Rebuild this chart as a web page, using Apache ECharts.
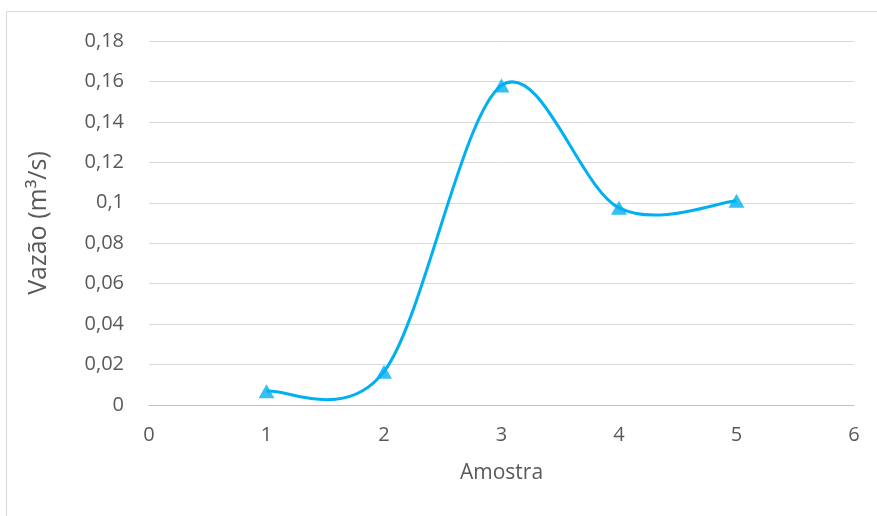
<!DOCTYPE html>
<html><head><meta charset="utf-8">
<script src="https://cdn.jsdelivr.net/npm/echarts@6/dist/echarts.min.js"></script>
<style>html,body{margin:0;padding:0;background:#fff}#c{width:877px;height:516px}</style>
</head><body><div id="c"></div>
<script>
const amostras = [1, 2, 3, 4, 5];
const vazao = [0.0068, 0.0165, 0.158, 0.0975, 0.101];
const xTicks = [0, 1, 2, 3, 4, 5, 6];
const yTickStep = 0.02;

const chart = echarts.init(document.getElementById('c'), null, {renderer: 'canvas'});
const font = '"Open Sans", "Liberation Sans", sans-serif';
const lineColor = '#00B0F0';

// Excel-style smoothed line: cubic Bezier (Catmull-Rom, factor 1/6) through the data, in pixel space via api.coord
function renderSmooth(params, api) {
  if (params.dataIndexInside !== 0) return null;
  const P = amostras.map((a, i) => api.coord([a, vazao[i]]));
  const n = P.length;
  const g = i => P[Math.max(0, Math.min(n - 1, i))];
  let d = 'M' + P[0][0] + ' ' + P[0][1];
  for (let i = 0; i < n - 1; i++) {
    const p0 = g(i - 1), p1 = g(i), p2 = g(i + 1), p3 = g(i + 2);
    const c1 = [p1[0] + (p2[0] - p0[0]) / 6, p1[1] + (p2[1] - p0[1]) / 6];
    const c2 = [p2[0] - (p3[0] - p1[0]) / 6, p2[1] - (p3[1] - p1[1]) / 6];
    d += ' C' + c1[0] + ' ' + c1[1] + ' ' + c2[0] + ' ' + c2[1] + ' ' + p2[0] + ' ' + p2[1];
  }
  return {type: 'path', shape: {pathData: d}, style: {fill: 'none', stroke: lineColor, lineWidth: 3}};
}

chart.setOption({
  animation: false,
  graphic: [{type: 'rect', shape: {x: 6.5, y: 11.5, width: 900, height: 600}, style: {fill: 'none', stroke: '#d9d9d9', lineWidth: 1}, silent: true}],
  grid: {left: 149, right: 23, top: 41, bottom: 111},
  xAxis: {
    type: 'value', min: xTicks[0], max: xTicks[xTicks.length - 1], interval: 1,
    name: 'Amostra', nameLocation: 'middle', nameGap: 58,
    nameTextStyle: {fontFamily: font, fontSize: 21, color: '#595959'},
    axisLine: {show: true, lineStyle: {color: '#bfbfbf', width: 1}},
    axisTick: {show: false},
    splitLine: {show: false},
    axisLabel: {fontFamily: font, fontSize: 20, color: '#595959', margin: 20}
  },
  yAxis: {
    type: 'value', min: 0, max: 0.18, interval: yTickStep,
    name: 'Vazão (m³/s)', nameLocation: 'middle', nameGap: 98, nameRotate: 90,
    nameTextStyle: {fontFamily: font, fontSize: 25, color: '#595959'},
    axisLine: {show: false}, axisTick: {show: false},
    splitLine: {lineStyle: {color: '#d9d9d9', width: 1}},
    axisLabel: {fontFamily: font, fontSize: 20, color: '#595959', margin: 25,
      formatter: v => String(Math.round(v * 100) / 100).replace('.', ',')}
  },
  series: [{
    type: 'custom', renderItem: renderSmooth,
    data: amostras.map((a, i) => [a, vazao[i]]),
    clip: false, z: 2
  }, {
    type: 'scatter',
    data: amostras.map((a, i) => [a, vazao[i]]),
    symbol: 'triangle', symbolSize: [16, 14],
    itemStyle: {color: lineColor}, z: 3
  }]
});
</script></body></html>
